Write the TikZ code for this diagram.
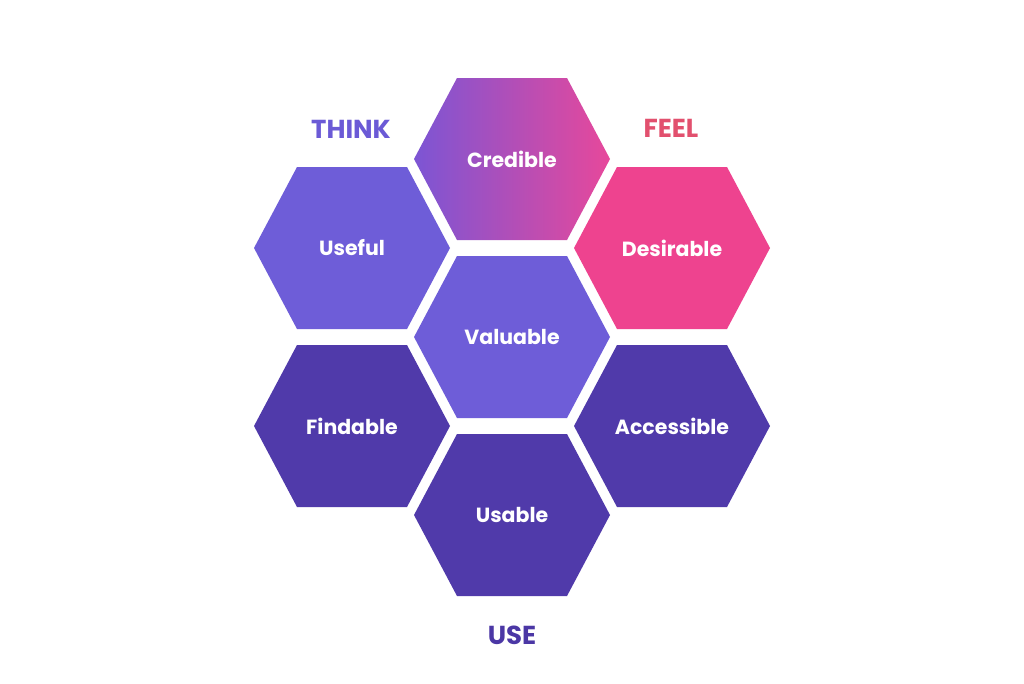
\documentclass[tikz,border=0pt]{standalone}
\usepackage{fontspec}
\setmainfont{Poppins}
\definecolor{midpurple}{RGB}{110,93,216}
\definecolor{darkpurple}{RGB}{80,58,170}
\definecolor{hotpink}{RGB}{238,67,143}
\definecolor{gradleft}{RGB}{124,85,212}
\definecolor{gradright}{RGB}{231,72,155}
\definecolor{thinkcol}{RGB}{107,90,214}
\definecolor{feelcol}{RGB}{226,80,110}
\definecolor{usecol}{RGB}{75,55,165}
\tikzset{
  hexlabel/.style={text=white,font=\bfseries\fontsize{20.5}{22}\selectfont,inner sep=0pt},
  grouplabel/.style={font=\bfseries\fontsize{26}{29}\selectfont,inner sep=0pt},
}
\newcommand\hexat[1]{(#1) ++(-98,0) -- ++(43,-81) -- ++(110,0) -- ++(43,81) -- ++(-43,81) -- ++(-110,0) -- cycle}
\begin{document}
\begin{tikzpicture}[x=1pt,y=-1pt]
\fill[white] (0,0) rectangle (1024,683);
\useasboundingbox (0,0) rectangle (1024,683);
\coordinate (cCred) at (512,159);
\coordinate (cUse) at (352,248);
\coordinate (cDes) at (672,248);
\coordinate (cVal) at (512,337);
\coordinate (cFin) at (352,426);
\coordinate (cAcc) at (672,426);
\coordinate (cUsa) at (512,515);
\shade[left color=gradleft,right color=gradright] \hexat{cCred};
\fill[midpurple] \hexat{cUse};
\fill[hotpink] \hexat{cDes};
\fill[midpurple] \hexat{cVal};
\fill[darkpurple] \hexat{cFin};
\fill[darkpurple] \hexat{cAcc};
\fill[darkpurple] \hexat{cUsa};
\node[hexlabel] (credible) at (cCred) {Credible};
\node[hexlabel] (useful) at (cUse) {Useful};
\node[hexlabel] (desirable) at (cDes) {Desirable};
\node[hexlabel] (valuable) at (cVal) {Valuable};
\node[hexlabel] (findable) at (cFin) {Findable};
\node[hexlabel] (accessible) at (cAcc) {Accessible};
\node[hexlabel] (usable) at (cUsa) {Usable};
\node[grouplabel,text=thinkcol] (think) at (351,129) {THINK};
\node[grouplabel,text=feelcol] (feel) at (671,128) {FEEL};
\node[grouplabel,text=usecol] (use) at (512,635) {USE};
\end{tikzpicture}
\end{document}
